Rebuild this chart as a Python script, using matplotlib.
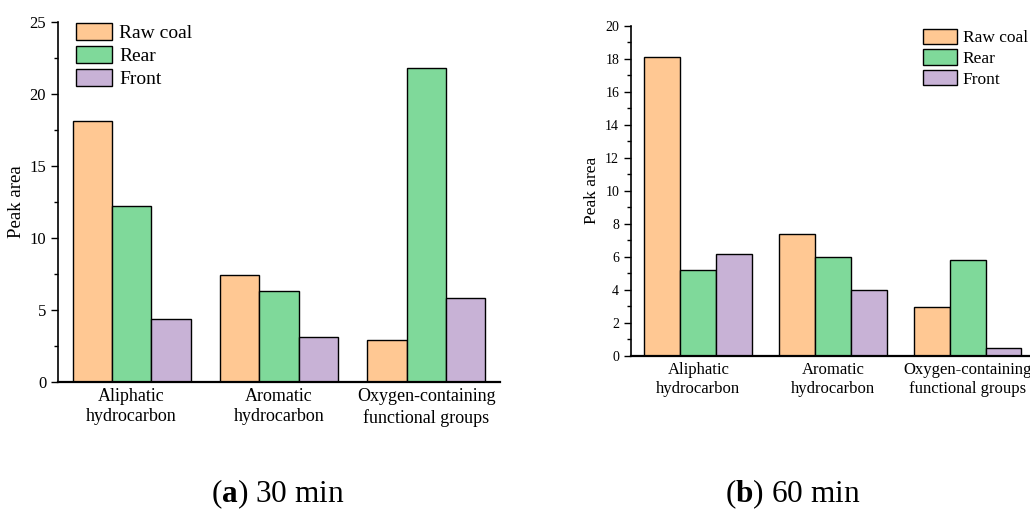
import matplotlib.pyplot as plt
import numpy as np

plt.rcParams['font.family'] = ['Liberation Serif', 'DejaVu Serif']
plt.rcParams['mathtext.fontset'] = 'custom'
plt.rcParams['mathtext.rm'] = 'Liberation Serif'
plt.rcParams['mathtext.bf'] = 'Liberation Serif:bold'

groups = ['Aliphatic\nhydrocarbon', 'Aromatic\nhydrocarbon', 'Oxygen-containing\nfunctional groups']
series = ['Raw coal', 'Rear', 'Front']
colors = ['#FFC893', '#7FD99A', '#C8B2D6']

# 30 min
raw_30 = [18.1, 7.4, 2.9]
rear_30 = [12.2, 6.35, 21.8]
front_30 = [4.35, 3.15, 5.85]

# 60 min
raw_60 = [18.1, 7.4, 2.95]
rear_60 = [5.2, 5.97, 5.8]
front_60 = [6.15, 4.0, 0.46]

fig = plt.figure(figsize=(10.3, 5.11), dpi=100)
ax1 = fig.add_axes([0.0563, 0.2524, 0.4291, 0.7051])
ax2 = fig.add_axes([0.6126, 0.3033, 0.3922, 0.6464])

x = np.arange(len(groups))
w = 0.8 / 3


def draw(ax, data, ymax, major, minor, tick_fs, xlab_fs):
    for i, vals in enumerate(data):
        ax.bar(x + (i - 1) * w, vals, w, color=colors[i], edgecolor='black',
               linewidth=1.0, label=series[i])
    ax.set_xlim(-0.5, 2.5)
    ax.set_ylim(0, ymax)
    ax.set_yticks(np.arange(0, ymax + 0.01, major))
    ax.set_yticks(np.arange(0, ymax + 0.01, minor), minor=True)
    ax.set_xticks(x)
    ax.set_xticklabels(groups, fontsize=xlab_fs, linespacing=1.3)
    ax.tick_params(axis='x', length=0, pad=4)
    ax.tick_params(axis='y', which='major', length=5, width=1, labelsize=tick_fs)
    ax.tick_params(axis='y', which='minor', length=3, width=1)
    ax.spines['top'].set_visible(False)
    ax.spines['right'].set_visible(False)
    ax.spines['left'].set_linewidth(1.2)
    ax.spines['bottom'].set_linewidth(1.6)


draw(ax1, [raw_30, rear_30, front_30], 25, 5, 2.5, 12, 13)
draw(ax2, [raw_60, rear_60, front_60], 20, 2, 1, 10, 12)

ax1.set_ylabel('Peak area', fontsize=13.5, labelpad=3)
ax2.set_ylabel('Peak area', fontsize=12.5, labelpad=4)

ax1.legend(loc='upper left', bbox_to_anchor=(0.074, 0.955), bbox_transform=fig.transFigure,
           frameon=False, fontsize=14, handlelength=1.85, handleheight=0.95,
           labelspacing=0.2, handletextpad=0.35, borderpad=0, borderaxespad=0)
ax2.legend(loc='upper left', bbox_to_anchor=(0.896, 0.944), bbox_transform=fig.transFigure,
           frameon=False, fontsize=12.5, handlelength=1.95, handleheight=1.0,
           labelspacing=0.17, handletextpad=0.35, borderpad=0, borderaxespad=0)

fig.text(0.27, 0.018, r'($\mathbf{a}$) 30 min', fontsize=22.5, ha='center')
fig.text(0.77, 0.018, r'($\mathbf{b}$) 60 min', fontsize=22.5, ha='center')

fig.savefig('out.png', dpi=100)
